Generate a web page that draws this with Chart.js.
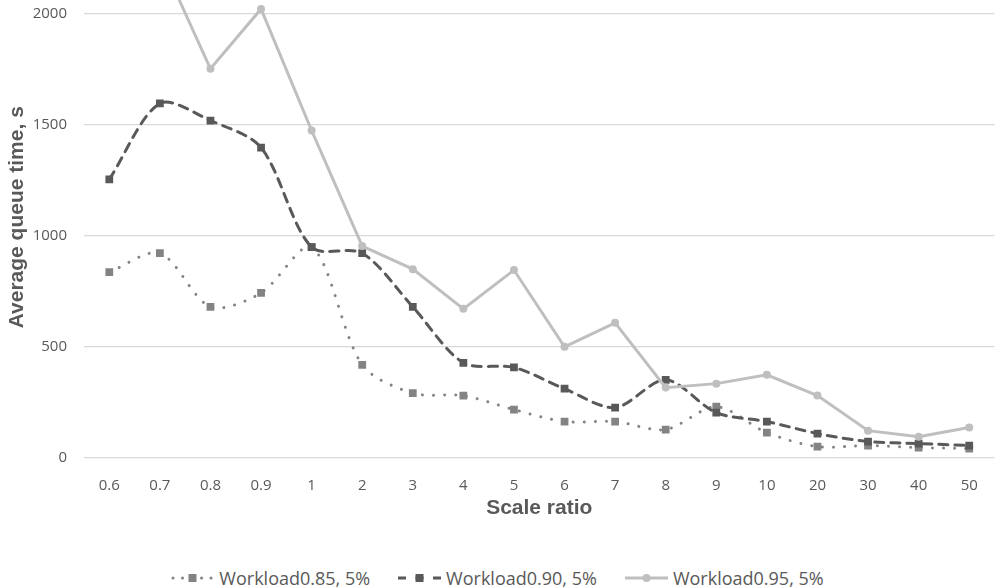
<!DOCTYPE html>
<html>
<head>
<meta charset="utf-8">
<script src="https://cdn.jsdelivr.net/npm/chart.js@4"></script>
<style>
  html, body { margin: 0; padding: 0; background: #fff; }
  #wrap { position: relative; width: 995px; height: 587px; overflow: hidden; }
  #chart { position: absolute; left: 0; top: -49px; }
  #legend {
    position: absolute; left: 0; top: 566px; width: 995px;
    display: flex; justify-content: center; align-items: center;
    font-family: "Open Sans", sans-serif; font-size: 18px; color: #595959;
  }
  #legend .item { display: flex; align-items: center; margin: 0 14px; }
  #legend svg { margin-right: 5px; }
</style>
</head>
<body>
<div id="wrap">
  <canvas id="chart" width="1000" height="570"></canvas>
  <div id="legend"></div>
</div>
<script>
// ── Data ──
const scaleRatios = ["0.6", "0.7", "0.8", "0.9", "1", "2", "3", "4", "5", "6", "7", "8", "9", "10", "20", "30", "40", "50"];
const workload085 = [836, 921, 679, 742, 948, 418, 290, 279, 216, 162, 162, 126, 229, 112, 49, 54, 45, 40];
const workload090 = [1254, 1596, 1519, 1397, 948, 921, 679, 427, 406, 310, 225, 350, 202, 162, 108, 72, 63, 54];
const workload095 = [2350, 2255, 1752, 2022, 1474, 953, 849, 670, 845, 499, 607, 315, 333, 373, 279, 121, 94, 135];
const yTicks      = [0, 500, 1000, 1500, 2000];

const seriesNames = ["Workload0.85, 5%", "Workload0.90, 5%", "Workload0.95, 5%"];

// ── Styles ──
const C85 = "#838383";
const C90 = "#595959";
const C95 = "#bfbfbf";

const datasets = [
  {
    label: seriesNames[0],
    data: workload085,
    borderColor: C85,
    backgroundColor: C85,
    borderWidth: 3,
    borderDash: [0.01, 11],
    borderCapStyle: "round",
    tension: 0.3,
    pointStyle: "rect",
    pointRadius: 5.5,
    pointBorderWidth: 0,
    order: 3,
  },
  {
    label: seriesNames[1],
    data: workload090,
    borderColor: C90,
    backgroundColor: C90,
    borderWidth: 3,
    borderDash: [9, 7],
    borderCapStyle: "round",
    tension: 0.3,
    pointStyle: "rect",
    pointRadius: 5.5,
    pointBorderWidth: 0,
    order: 2,
  },
  {
    label: seriesNames[2],
    data: workload095,
    borderColor: C95,
    backgroundColor: C95,
    borderWidth: 3,
    tension: 0,
    pointStyle: "circle",
    pointRadius: 4,
    pointBorderWidth: 0,
    order: 1,
  },
];

new Chart(document.getElementById("chart"), {
  type: "line",
  data: { labels: scaleRatios, datasets },
  options: {
    responsive: false,
    animation: false,
    devicePixelRatio: 1,
    layout: { padding: { left: 5, right: 0, top: 0, bottom: 0 } },
    plugins: { legend: { display: false }, tooltip: { enabled: false } },
    scales: {
      x: {
        offset: true,
        afterFit: s => { s.height = 63.5; },
        grid: { display: false },
        border: { display: false },
        ticks: {
          padding: 11,
          color: "#595959",
          font: { family: "Open Sans", size: 15 },
          maxRotation: 0,
          autoSkip: false,
        },
        title: {
          display: true,
          text: "Scale ratio",
          color: "#595959",
          font: { family: "Liberation Sans", size: 21, weight: "bold" },
          padding: { top: 0, bottom: 0 },
        },
      },
      y: {
        min: 0,
        max: 2166,
        afterBuildTicks: s => { s.ticks = yTicks.map(v => ({ value: v })); },
        afterFit: s => { s.width = 79; },
        grid: { color: "#d9d9d9", lineWidth: 1.3, drawTicks: false },
        border: { display: false },
        ticks: {
          padding: 17,
          color: "#595959",
          font: { family: "Open Sans", size: 15 },
          callback: v => String(v),
        },
        title: {
          display: true,
          text: "Average queue time, s",
          color: "#595959",
          font: { family: "Liberation Sans", size: 21, weight: "bold" },
          padding: { top: 0, bottom: 0 },
        },
      },
    },
  },
});

// ── Legend (line sample + marker, like the original) ──
function legendSample(i) {
  const w = 43, h = 14, cy = 7;
  if (i === 0) {
    return `<svg width="${w}" height="${h}"><line x1="2" y1="${cy}" x2="${w - 2}" y2="${cy}" stroke="${C85}" stroke-width="3" stroke-linecap="round" stroke-dasharray="0.01 9.5"/><rect x="${w / 2 - 4}" y="${cy - 4}" width="8" height="8" fill="${C85}"/></svg>`;
  }
  if (i === 1) {
    return `<svg width="${w}" height="${h}"><line x1="0" y1="${cy}" x2="${w}" y2="${cy}" stroke="${C90}" stroke-width="3" stroke-dasharray="8 9.5"/><rect x="${w / 2 - 4}" y="${cy - 4}" width="8" height="8" fill="${C90}"/></svg>`;
  }
  return `<svg width="${w}" height="${h}"><line x1="0" y1="${cy}" x2="${w}" y2="${cy}" stroke="${C95}" stroke-width="3"/><circle cx="${w / 2}" cy="${cy}" r="4" fill="${C95}"/></svg>`;
}

document.getElementById("legend").innerHTML = seriesNames
  .map((name, i) => `<span class="item">${legendSample(i)}<span>${name}</span></span>`)
  .join("");
</script>
</body>
</html>
